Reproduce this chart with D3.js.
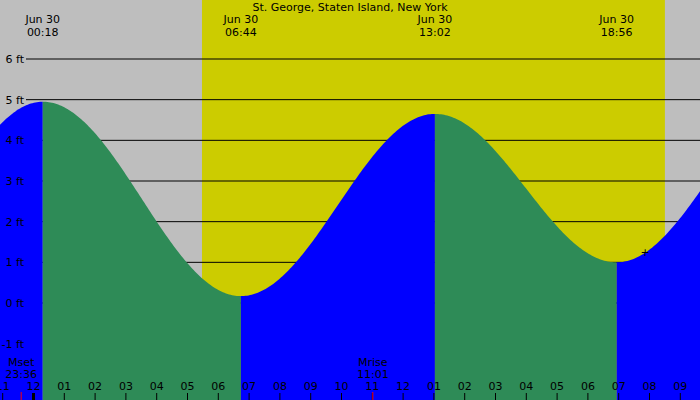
<!DOCTYPE html>
<html>
<head>
<meta charset="UTF-8">
<script src="https://d3js.org/d3.v7.min.js"></script>
<style>
  body { margin: 0; }
  text { font-family: "DejaVu Sans", sans-serif; font-size: 11px; }
</style>
</head>
<body>
<div id="chart"></div>
<script>
// tide extremes: hours from midnight Jun 30, height in ft
const tideHours = [-5.8, 0.3, 6.733, 13.033, 18.933, 25.0];
const tideHeights = [0.3, 4.95, 0.17, 4.65, 1.0, 5.2];
const eventLabels = [null, "00:18", "06:44", "13:02", "18:56", null];
const ftTicks = [-1, 0, 1, 2, 3, 4, 5, 6];
const hourTicks = d3.range(-1, 22);
const sunrise = 5.47, sunset = 20.5;
const moonEvents = [{name: "Mset", time: "23:36", h: -0.4}, {name: "Mrise", time: "11:01", h: 11.017}];

const width = 700, height = 400;
const x = d3.scaleLinear().domain([0, 21]).range([33.5, 33.5 + 21 * 30.8]);
const y = d3.scaleLinear().domain([0, 6]).range([303, 59]);

const svg = d3.select("#chart").append("svg").attr("width", width).attr("height", height);
svg.append("rect").attr("width", width).attr("height", height).attr("fill", "#bebebe");
svg.append("rect").attr("x", x(sunrise)).attr("width", x(sunset) - x(sunrise))
  .attr("y", 0).attr("height", height).attr("fill", "#cccc00");

// grid lines (behind the tide fill)
ftTicks.forEach(t => {
  if (t >= 0) svg.append("line").attr("x1", 26).attr("x2", width)
    .attr("y1", y(t)).attr("y2", y(t)).attr("stroke", "#000");
});

function tideAt(h) {
  for (let i = 0; i < tideHours.length - 1; i++) {
    if (h >= tideHours[i] && h <= tideHours[i + 1]) {
      const f = (h - tideHours[i]) / (tideHours[i + 1] - tideHours[i]);
      return tideHeights[i] + (tideHeights[i + 1] - tideHeights[i]) * (1 - Math.cos(Math.PI * f)) / 2;
    }
  }
  return 0;
}
const h0 = x.invert(0), h1 = x.invert(width);
const area = d3.area().x(d => x(d)).y0(height).y1(d => y(tideAt(d)));
for (let i = 0; i < tideHours.length - 1; i++) {
  const a = Math.max(tideHours[i], h0), b = Math.min(tideHours[i + 1], h1);
  if (a >= b) continue;
  const pts = d3.range(a, b, 0.05).concat([b]);
  svg.append("path").attr("d", area(pts))
    .attr("fill", tideHeights[i + 1] > tideHeights[i] ? "#0000ff" : "#2e8b57");
}

ftTicks.forEach(t => {
  svg.append("text").attr("x", 24).attr("y", y(t) + 4).attr("text-anchor", "end").text(t + " ft");
});

svg.append("text").attr("x", 350).attr("y", 11).attr("text-anchor", "middle")
  .text("St. George, Staten Island, New York");

tideHours.forEach((h, i) => {
  if (!eventLabels[i]) return;
  svg.append("text").attr("x", x(h)).attr("y", 23).attr("text-anchor", "middle").text("Jun 30");
  svg.append("text").attr("x", x(h)).attr("y", 36).attr("text-anchor", "middle").text(eventLabels[i]);
});

hourTicks.forEach(h => {
  const lab = String(((h % 24) + 24) % 24 === 0 ? 12 : (((h % 12) + 12) % 12 || 12)).padStart(2, "0");
  svg.append("text").attr("x", x(h)).attr("y", 390).attr("text-anchor", "middle").text(lab);
  svg.append("line").attr("x1", x(h)).attr("x2", x(h)).attr("y1", 393).attr("y2", height)
    .attr("stroke", "#000").attr("stroke-width", h === 0 ? 3 : 1);
});

moonEvents.forEach(m => {
  svg.append("text").attr("x", x(m.h)).attr("y", 366).attr("text-anchor", "middle").text(m.name);
  svg.append("text").attr("x", x(m.h)).attr("y", 378).attr("text-anchor", "middle").text(m.time);
  svg.append("line").attr("x1", x(m.h)).attr("x2", x(m.h)).attr("y1", 392).attr("y2", height)
    .attr("stroke", "#ff0000");
});

svg.append("text").attr("x", 645).attr("y", 256).attr("text-anchor", "middle").text("+");
</script>
</body>
</html>
